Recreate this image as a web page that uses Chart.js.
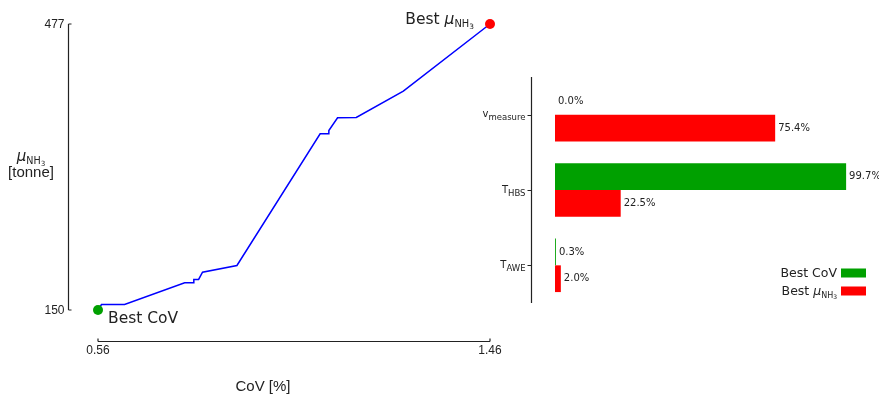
<!DOCTYPE html>
<html>
<head>
<meta charset="utf-8">
<script src="https://cdn.jsdelivr.net/npm/chart.js@4.4.0/dist/chart.umd.min.js"></script>
<style>
  html, body { margin: 0; padding: 0; background: #fff; }
  #wrap { position: relative; width: 879px; height: 395px; overflow: hidden; }
  #lineCanvas { position: absolute; left: 0; top: 0; }
  #barCanvas { position: absolute; left: 470px; top: 0; }
</style>
</head>
<body>
<div id="wrap">
  <canvas id="lineCanvas" width="520" height="395"></canvas>
  <canvas id="barCanvas" width="409" height="395"></canvas>
</div>
<script>
// Pareto front: CoV [%] against mean NH3 production [tonne]
const covValues = [0.56, 0.568, 0.621, 0.759, 0.780, 0.780, 0.791, 0.800, 0.879, 1.070, 1.090, 1.090, 1.110, 1.153, 1.261, 1.46];
const nh3Values = [150, 156.3, 156.3, 181.1, 181.1, 184.9, 184.9, 193.2, 200.9, 351.5, 351.5, 355.2, 369.8, 370.1, 400.2, 477];
const covTicks = [0.56, 1.46];
const nh3Ticks = [150, 477];

// variance share of each parameter at the two end points of the front
const paramLabels = [['v', 'measure'], ['T', 'HBS'], ['T', 'AWE']];
const bestCovShare = [0.0, 99.7, 0.3];
const bestNh3Share = [75.4, 22.5, 2.0];

const GREEN = '#00a000';
const RED = '#ff0000';
const TEXT = '#222';

// draws a run of text pieces (main text, subscripts) one after another
function drawRich(ctx, runs, x, y, align) {
  let w = 0;
  runs.forEach(r => { ctx.font = r.font; r.w = ctx.measureText(r.text).width; w += r.w; });
  let cx = align === 'right' ? x - w : align === 'center' ? x - w / 2 : x;
  ctx.textAlign = 'left';
  ctx.textBaseline = 'alphabetic';
  runs.forEach(r => { ctx.font = r.font; ctx.fillText(r.text, cx, y + (r.dy || 0)); cx += r.w; });
  return w;
}

// "mu_NH3" in a given size
function muRuns(s) {
  return [
    { text: 'μ', font: `italic ${s}px "DejaVu Sans"` },
    { text: 'NH', font: `${(s * 0.64).toFixed(1)}px "DejaVu Sans"`, dy: s * 0.2 },
    { text: '3', font: `${(s * 0.48).toFixed(1)}px "DejaVu Sans"`, dy: s * 0.3 }
  ];
}

// offset spines, ticks and titles for the line chart
const lineAxes = {
  id: 'lineAxes',
  afterDraw(chart) {
    const { ctx, scales: { x, y } } = chart;
    const x0 = x.getPixelForValue(covTicks[0]);
    const x1 = x.getPixelForValue(covTicks[1]);
    const y0 = y.getPixelForValue(nh3Ticks[0]);
    const y1 = y.getPixelForValue(nh3Ticks[1]);
    const sx = Math.round(x0 - 30) + 0.5;
    const sy = Math.round(y0 + 31) + 0.5;
    ctx.save();
    ctx.strokeStyle = TEXT;
    ctx.lineWidth = 1.2;
    ctx.beginPath();
    ctx.moveTo(sx, y1); ctx.lineTo(sx, y0);
    ctx.moveTo(x0, sy); ctx.lineTo(x1, sy);
    nh3Ticks.forEach(v => {
      const py = y.getPixelForValue(v);
      ctx.moveTo(sx, py); ctx.lineTo(sx + 3, py);
    });
    covTicks.forEach(v => {
      const px = x.getPixelForValue(v);
      ctx.moveTo(px, sy); ctx.lineTo(px, sy - 3);
    });
    ctx.stroke();

    ctx.fillStyle = TEXT;
    ctx.font = '12px "Liberation Sans"';
    ctx.textAlign = 'right';
    ctx.textBaseline = 'middle';
    nh3Ticks.forEach(v => ctx.fillText(String(v), sx - 4, y.getPixelForValue(v) + 1));
    ctx.textAlign = 'center';
    ctx.textBaseline = 'top';
    covTicks.forEach(v => ctx.fillText(v.toFixed(2), x.getPixelForValue(v), sy + 3));

    ctx.font = '15px "Liberation Sans"';
    ctx.textBaseline = 'alphabetic';
    ctx.fillText('CoV [%]', 263, 391);
    ctx.fillText('[tonne]', 31, 177);
    drawRich(ctx, muRuns(15), 31, 161, 'center');

    // labels next to the two end points
    const last = covValues.length - 1;
    ctx.font = '15.5px "DejaVu Sans"';
    ctx.textAlign = 'left';
    ctx.fillText('Best CoV', x.getPixelForValue(covValues[0]) + 10, y.getPixelForValue(nh3Values[0]) + 13);
    drawRich(ctx, [{ text: 'Best ', font: '15.5px "DejaVu Sans"' }].concat(muRuns(15.5)),
      x.getPixelForValue(covValues[last]) - 16, y.getPixelForValue(nh3Values[last]), 'right');
    ctx.restore();
  }
};

new Chart(document.getElementById('lineCanvas'), {
  type: 'line',
  data: {
    datasets: [
      {
        data: [{ x: covValues[0], y: nh3Values[0] }],
        backgroundColor: GREEN,
        pointRadius: 5,
        pointBorderWidth: 0,
        showLine: false,
        order: 1
      },
      {
        data: [{ x: covValues[covValues.length - 1], y: nh3Values[nh3Values.length - 1] }],
        backgroundColor: RED,
        pointRadius: 5,
        pointBorderWidth: 0,
        showLine: false,
        order: 1
      },
      {
        data: covValues.map((c, i) => ({ x: c, y: nh3Values[i] })),
        borderColor: '#0000ff',
        borderWidth: 1.5,
        pointRadius: 0,
        tension: 0,
        order: 2
      }
    ]
  },
  options: {
    responsive: false,
    animation: false,
    clip: false,
    layout: { padding: { left: 98, right: 30, top: 24, bottom: 85 } },
    plugins: { legend: { display: false }, tooltip: { enabled: false } },
    scales: {
      x: { type: 'linear', min: covTicks[0], max: covTicks[1], display: false },
      y: { type: 'linear', min: nh3Ticks[0], max: nh3Ticks[1], display: false }
    }
  },
  plugins: [lineAxes]
});

// category axis with subscripted parameter names
const barAxis = {
  id: 'barAxis',
  afterDraw(chart) {
    const { ctx, chartArea, scales: { y } } = chart;
    const sx = chartArea.left - 24 + 0.5;
    ctx.save();
    ctx.strokeStyle = TEXT;
    ctx.lineWidth = 1.2;
    ctx.beginPath();
    ctx.moveTo(sx, chartArea.top); ctx.lineTo(sx, chartArea.bottom);
    paramLabels.forEach((p, i) => {
      const py = Math.round(y.getPixelForValue(i)) + 0.5;
      ctx.moveTo(sx - 4, py); ctx.lineTo(sx, py);
    });
    ctx.stroke();
    ctx.fillStyle = TEXT;
    paramLabels.forEach((p, i) => {
      const py = y.getPixelForValue(i);
      drawRich(ctx, [
        { text: p[0], font: '10px "DejaVu Sans"' },
        { text: p[1], font: '8.5px "DejaVu Sans"', dy: 3.3 }
      ], sx - 6, py + 2.5, 'right');
    });
    ctx.restore();
  }
};

// percentage written at the end of each bar
const barValues = {
  id: 'barValues',
  afterDatasetsDraw(chart) {
    const { ctx } = chart;
    ctx.save();
    ctx.fillStyle = TEXT;
    ctx.font = '10px "DejaVu Sans"';
    ctx.textAlign = 'left';
    ctx.textBaseline = 'middle';
    chart.data.datasets.forEach((ds, di) => {
      chart.getDatasetMeta(di).data.forEach((bar, i) => {
        ctx.fillText(ds.data[i].toFixed(1) + '%', bar.x + 3, bar.y);
      });
    });
    ctx.restore();
  }
};

// legend at the lower right
const barLegend = {
  id: 'barLegend',
  afterDraw(chart) {
    const { ctx } = chart;
    const font = '12.5px "DejaVu Sans"';
    const boxX = 371, boxW = 25, boxH = 9;
    const rows = [
      { y: 273, color: GREEN, runs: [{ text: 'Best CoV', font }] },
      { y: 291, color: RED, runs: [{ text: 'Best ', font }].concat(muRuns(12.5)) }
    ];
    ctx.save();
    rows.forEach(r => {
      ctx.fillStyle = TEXT;
      drawRich(ctx, r.runs, boxX - 4, r.y + 4, 'right');
      ctx.fillStyle = r.color;
      ctx.fillRect(boxX, r.y - boxH / 2, boxW, boxH);
    });
    ctx.restore();
  }
};

new Chart(document.getElementById('barCanvas'), {
  type: 'bar',
  data: {
    labels: paramLabels.map(p => p.join('_')),
    datasets: [
      { label: 'Best CoV', data: bestCovShare, backgroundColor: GREEN },
      { label: 'Best μNH3', data: bestNh3Share, backgroundColor: RED }
    ]
  },
  options: {
    indexAxis: 'y',
    responsive: false,
    animation: false,
    layout: { padding: { left: 85, right: 32, top: 77, bottom: 92 } },
    datasets: { bar: { barPercentage: 1, categoryPercentage: 0.71 } },
    plugins: { legend: { display: false }, tooltip: { enabled: false } },
    scales: {
      x: { min: 0, max: 100, display: false },
      y: { display: false, offset: true }
    }
  },
  plugins: [barAxis, barValues, barLegend]
});
</script>
</body>
</html>
